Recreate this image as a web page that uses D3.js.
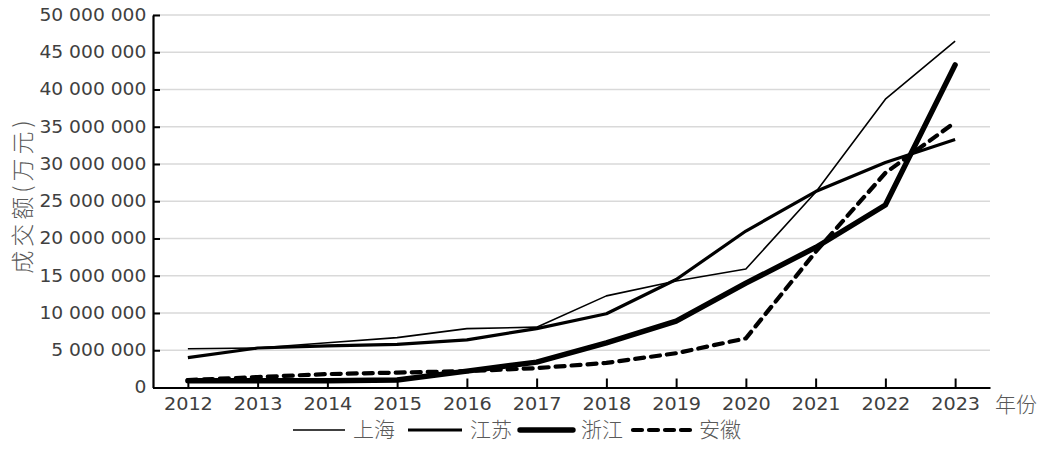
<!DOCTYPE html>
<html><head><meta charset="utf-8">
<script src="https://cdn.jsdelivr.net/npm/d3@7/dist/d3.min.js"></script>
<style>
html,body{margin:0;padding:0;background:#fff;}
svg{display:block;}
</style></head>
<body>
<svg id="chart" width="1042" height="451"></svg>
<script>
const years = ["2012","2013","2014","2015","2016","2017","2018","2019","2020","2021","2022","2023"];
const shanghai = [5200000,5300000,6000000,6700000,7900000,8100000,12300000,14300000,15900000,26200000,38700000,46500000];
const jiangsu  = [4000000,5300000,5600000,5800000,6400000,7900000,9900000,14500000,21000000,26300000,30200000,33300000];
const zhejiang = [900000,900000,900000,1000000,2200000,3400000,6000000,8900000,14000000,18800000,24500000,43300000];
const anhui    = [1000000,1400000,1800000,2000000,2200000,2600000,3300000,4600000,6600000,18200000,28800000,35600000];
const seriesNames = ["上海","江苏","浙江","安徽"];
const yTicks = [0,5000000,10000000,15000000,20000000,25000000,30000000,35000000,40000000,45000000,50000000];
const yTitle = "成交额(万元)";
const xTitle = "年份";

const styles = [
  {w:1.6, dash:null, cap:"butt"},
  {w:3.2, dash:null, cap:"butt"},
  {w:5.4, dash:null, cap:"round"},
  {w:4.2, dash:"9,7", cap:"round"}
];
const data = [shanghai, jiangsu, zhejiang, anhui];

const svg = d3.select("#chart");
const L = 153, R = 990, T = 15, B = 387.5;
const x = d3.scalePoint().domain(years).range([L, R]).padding(0.5);
const y = d3.scaleLinear().domain([0, 50000000]).range([B, T]);

const numFmt = v => d3.format(",")(v).replace(/,/g, " ");
const latin = "'DejaVu Sans', Verdana, sans-serif";
const cjk = "'Noto Sans CJK SC', sans-serif";
const SX = 1.1;

// gridlines
svg.append("g").selectAll("line").data(yTicks.filter(d => d > 0)).join("line")
  .attr("x1", L).attr("x2", R).attr("y1", d => y(d)).attr("y2", d => y(d))
  .attr("stroke", "#d9d9d9").attr("stroke-width", 1.5);

// y axis
const yAxis = svg.append("g").attr("transform", `translate(${L},0)`)
  .call(d3.axisLeft(y).tickValues(yTicks).tickFormat(numFmt).tickSizeInner(-7).tickSizeOuter(0).tickPadding(6));
yAxis.select(".domain").attr("stroke", "#000").attr("stroke-width", 2.2);
yAxis.selectAll(".tick line").attr("stroke", "#000").attr("stroke-width", 2);
yAxis.selectAll("text").attr("font-family", latin).attr("font-size", 17).attr("fill", "#404040")
  .attr("transform", `scale(${SX},1)`);

// x axis
const xAxis = svg.append("g").attr("transform", `translate(0,${B})`)
  .call(d3.axisBottom(x).tickSizeInner(-9).tickSizeOuter(0).tickPadding(10));
xAxis.select(".domain").attr("stroke", "#000").attr("stroke-width", 2.2);
xAxis.selectAll(".tick line").attr("stroke", "#000").attr("stroke-width", 2);
xAxis.selectAll("text").attr("font-family", latin).attr("font-size", 17.5).attr("fill", "#404040")
  .attr("transform", `scale(${SX},1)`);

// lines
const line = d3.line().x((d, i) => x(years[i])).y(d => y(d));
data.forEach((arr, k) => {
  const s = styles[k];
  svg.append("path").datum(arr).attr("d", line)
    .attr("fill", "none").attr("stroke", "#000")
    .attr("stroke-width", s.w)
    .attr("stroke-linejoin", "round")
    .attr("stroke-linecap", s.cap)
    .attr("stroke-dasharray", s.dash);
});

// axis titles
svg.append("text").text(yTitle)
  .attr("transform", "translate(31,195) rotate(-90)")
  .attr("text-anchor", "middle").attr("font-family", cjk).attr("font-weight", 300)
  .attr("font-size", 23).attr("letter-spacing", 4).attr("fill", "#595959");
svg.append("text").text(xTitle)
  .attr("x", 995).attr("y", 412)
  .attr("font-family", cjk).attr("font-weight", 300)
  .attr("font-size", 21).attr("fill", "#595959");

// legend
const legX = [293, 408, 520, 633];
const legLen = [52, 54, 53, 58];
const lg = svg.append("g");
seriesNames.forEach((n, k) => {
  const s = styles[k];
  lg.append("line").attr("x1", legX[k]).attr("x2", legX[k] + legLen[k])
    .attr("y1", 430).attr("y2", 430)
    .attr("stroke", "#000").attr("stroke-width", s.w)
    .attr("stroke-linecap", s.cap).attr("stroke-dasharray", s.dash);
  lg.append("text").text(n).attr("x", legX[k] + legLen[k] + 8).attr("y", 437)
    .attr("font-family", cjk).attr("font-weight", 300)
    .attr("font-size", 21).attr("fill", "#595959");
});
</script>
</body></html>
